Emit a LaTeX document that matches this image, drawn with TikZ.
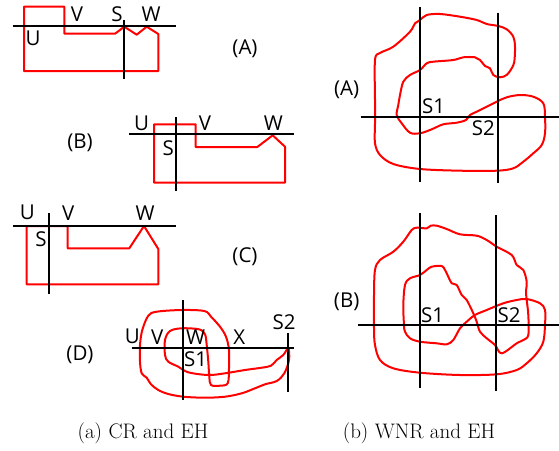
\documentclass[tikz,border=0pt]{standalone}
\usepackage{fontspec}
\newfontfamily\labfont{Open Sans}

\tikzset{
  cutline/.style={draw=black, line width=2pt},
  redcurve/.style={draw=red, line width=2pt, line join=round},
  lbl/.style={font=\labfont\fontsize{20.5}{23}\selectfont, inner sep=0pt},
  captext/.style={font=\fontsize{21}{24}\selectfont, inner sep=0pt}
}

\begin{document}
\begin{tikzpicture}[x=1pt,y=-1pt]
  \useasboundingbox (0,0) rectangle (559,450);

  % (A) left
  \draw[redcurve] (24,6.7) -- (64.3,6.7) -- (64.3,33.7) -- (115,33.7) -- (124.3,26.7) -- (136.7,34.7)
    -- (146.7,26.7) -- (158.3,34) -- (158.3,71) -- (24,71) -- cycle;
  \draw[cutline] (12.7,25.7) -- (175.7,25.7);
  \draw[cutline] (124.3,20) -- (124.3,79.3);
  \node (ua) [lbl] at (33,38) {U};
  \node (va) [lbl] at (77,14) {V};
  \node (sa) [lbl] at (117,14) {S};
  \node (wa) [lbl] at (151,14) {W};
  \node (tagA) [lbl] at (245,49) {(A)};

  % (B) left
  \draw[redcurve] (154,124.3) -- (195.7,124.3) -- (195.7,147) -- (257.3,147) -- (272.7,135.3)
    -- (285,146.7) -- (285,182.7) -- (154,182.7) -- cycle;
  \draw[cutline] (129.3,134.3) -- (294,134.3);
  \draw[cutline] (176,117.3) -- (176,190.7);
  \node (ub) [lbl] at (141.7,123) {U};
  \node (vb) [lbl] at (205,123) {V};
  \node (wb) [lbl] at (273.3,123) {W};
  \node (sb) [lbl] at (168.3,148.3) {S};
  \node (tagB) [lbl] at (80,143) {(B)};

  % (C) left
  \draw[redcurve] (26.7,226) -- (67.7,226) -- (67.7,248.3) -- (129.3,248.3) -- (144,226)
    -- (158.3,249) -- (158.3,284.3) -- (26.7,284.3) -- cycle;
  \draw[cutline] (13.3,226) -- (176,226);
  \draw[cutline] (49,213.3) -- (49,294);
  \node (uc) [lbl] at (27.3,212.7) {U};
  \node (vc) [lbl] at (68.3,212.7) {V};
  \node (wc) [lbl] at (145,212.7) {W};
  \node (sc) [lbl] at (41,239.3) {S};
  \node (tagC) [lbl] at (245,256.7) {(C)};

  % (D) left
  \draw[redcurve] plot[smooth cycle, tension=0.55] coordinates {
    (288.3,348.3) (289,360) (284.3,373.3) (276.7,381) (265,384.3) (255,388.3) (241.7,393.3)
    (225,396.7) (205,397.7) (183.3,396.7) (168.3,394) (158.3,390) (151,384.3) (146.7,377.7)
    (141.7,373.3) (140,361.7) (140,345) (142.3,330) (148.3,315.7) (156.7,311.7) (181.7,310)
    (204.3,311) (211,316.7) (220,326.7) (226,336.7) (229,350) (229,368.3) (227.7,383.3)
    (220,385.7) (211,385) (209.3,376.7) (208.3,361.7) (206.7,345) (205,334.3) (199,329.3)
    (181.7,328.3) (170,331) (165,340) (165,355) (168.3,361.7) (178.3,366.7) (188.3,372.3)
    (208.3,375) (225,373.3) (245,370) (261.7,367.7) (271,365.7) (276.7,360) (283.3,355)};
  \draw[cutline] (131.7,347.7) -- (294,347.7);
  \draw[cutline] (182.7,300) -- (182.7,400);
  \draw[cutline] (288.3,333.3) -- (288.3,391.7);
  \node (ud) [lbl] at (132.3,336.7) {U};
  \node (vd) [lbl] at (157.3,336.7) {V};
  \node (wd) [lbl] at (195.5,336.7) {W};
  \node (xd) [lbl] at (239.3,336.7) {X};
  \node (s2d) [lbl] at (284,322) {S2};
  \node (s1d) [lbl] at (195.5,359.5) {S1};
  \node (tagD) [lbl] at (80,355) {(D)};

  % (A) right
  \draw[redcurve] plot[smooth cycle, tension=0.55] coordinates {
    (375,100) (375,60) (380,53) (393.3,46.7) (410,31.7) (415,23.3) (420,20) (426.7,15) (440,14)
    (460,16.7) (476.7,20) (486.7,24) (498.3,26) (506.7,29.3) (513.3,36.7) (515,46.7)
    (514.3,61.7) (511.7,68.3) (506.7,75) (500,77.3) (493.3,75) (490,68.3) (485,66) (480,60)
    (475,57.3) (463.3,57.3) (453.3,60) (433.3,61.7) (426.7,63.3) (420,70) (410,75)
    (403.3,81.7) (400,95) (398.3,105) (396.7,115) (401.7,123.3) (410,132.7) (420,133.3)
    (431.7,129.3) (443.3,124.3) (456.7,122.7) (466,120) (470,115) (476.7,111.7) (486.7,106.7)
    (496.7,101.7) (506.7,97.3) (520,95) (533.3,96.7) (543.3,103.3) (545,116.7) (545,133.3)
    (541.7,145) (533.3,153.3) (523.3,161.7) (513.3,168.3) (496.7,170.7) (460,170.7)
    (420,169) (393.3,164) (380,155) (375,143.3) (375,123.3)};
  \draw[cutline] (360.7,116.7) -- (559,116.7);
  \draw[cutline] (420,6.7) -- (420,181.7);
  \draw[cutline] (497.7,12.7) -- (497.7,182.7);
  \node (tagRA) [lbl] at (346.7,90) {(A)};
  \node (s1ra) [lbl] at (433.7,105.7) {S1};
  \node (s2ra) [lbl] at (483.3,128.3) {S2};

  % (B) right
  \draw[redcurve] plot[smooth cycle, tension=0.55] coordinates {
    (461.7,295) (456.7,285) (451.7,283.3) (448.3,276.7) (445,270) (441.7,266) (431.7,266.7)
    (426.7,270) (420,275) (410,278.3) (405,285) (403.3,305) (404,325) (405,331.7) (410,338.3)
    (420,341.7) (436.7,343.3) (446.7,344.3) (453.3,340) (460,328.3) (466.7,321.7) (475,315)
    (486.7,310) (503.3,303.3) (516.7,300) (526.7,299) (540,303.3) (545,310) (545,325)
    (543.3,341.7) (536.7,353.3) (526.7,363.3) (516.7,370) (496.7,374.3) (460,375) (420,372.7)
    (393.3,368.3) (380,360) (375,345) (374,328.3) (374,295) (375,270) (380,260) (393.3,251.7)
    (403.3,241.7) (411.7,230) (416.7,227.7) (426.7,228.3) (430.7,225.7) (436.7,225.7)
    (446.7,229) (460,234.3) (476.7,235.7) (486.7,240) (496.7,246.7) (511.7,255) (516.7,265)
    (523.3,270) (526.7,281.7) (526,291.7) (526.7,300) (528.3,315) (528.3,335) (523.3,340)
    (516.7,343.3) (501.7,353.3) (495,345) (486.7,338.3) (480,331.7) (476.7,321.7)
    (473.3,313.3) (466.7,300)};
  \draw[cutline] (358.3,325) -- (559,325);
  \draw[cutline] (420,213.3) -- (420,387.7);
  \draw[cutline] (496,215) -- (496,390.7);
  \node (tagRB) [lbl] at (346.7,301.7) {(B)};
  \node (s1rb) [lbl] at (432.7,315) {S1};
  \node (s2rb) [lbl] at (509,315) {S2};

  \node (capa) [captext] at (143,433) {(a) CR and EH};
  \node (capb) [captext] at (419,433) {(b) WNR and EH};
\end{tikzpicture}
\end{document}
